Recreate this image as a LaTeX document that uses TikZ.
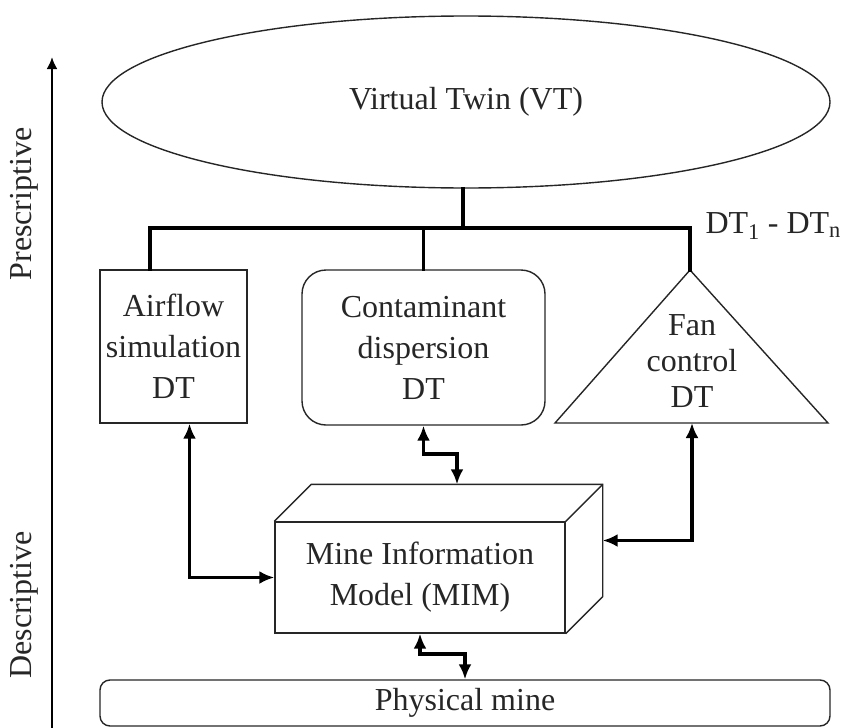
\documentclass[tikz,border=0pt]{standalone}
\usepackage{fontspec}
\setmainfont{Liberation Serif}
\usepackage{tikz}
\usetikzlibrary{arrows,arrows.meta}
\usetikzlibrary{shapes.geometric}

\begin{document}
\begin{tikzpicture}[x=1pt,y=-1pt,
			main node/.style={draw=black!85,line width=1.4pt,align=center,
				inner sep=0pt,text=black!85,font=\rmfamily\fontsize{32}{41}\selectfont},
			label node/.style={text=black!85,font=\rmfamily\fontsize{32}{41}\selectfont},
			bus/.style={line width=3.6pt,line cap=rect},
			link/.style={line width=3.6pt,{Latex[length=15pt,width=13pt]}-{Latex[length=15pt,width=13pt]}}]
			
			\useasboundingbox (0,0) rectangle (841,728);
			
			\node[main node,ellipse,minimum width=728,minimum height=172] (VT) at (466,102) {Virtual Twin (VT)};
			\node[main node,minimum width=147,minimum height=153] (AF) at (173.5,346.5) {Airflow\\simulation\\DT};
			\node[main node,rounded corners=24,minimum width=243,minimum height=155] (CD) at (423.5,347.5) {Contaminant\\dispersion\\DT};
			\node[main node,minimum width=290,minimum height=111] (MIM) at (420,577.5) {Mine Information\\Model (MIM)};
			\node[main node,rounded corners=10,minimum width=730,minimum height=46] (PM) at (465,703) {Physical mine};
			
			\coordinate (FA) at (690,270);
			\coordinate (FL) at (555,423);
			\coordinate (FR) at (828,423);
			\coordinate (FB) at (692,423);
			\draw[black!85,line width=1.4pt,line join=miter] (FL) -- (FA) -- (FR) -- cycle;
			\node[label node,align=center,font=\rmfamily\fontsize{32}{36}\selectfont] (FC) at (692,361) {Fan\\control\\DT};
			
			\draw[black!85,line width=1.4pt] (MIM.north west) -- ++(37,-37) -- ([shift={(37,-37)}]MIM.north east)
				-- ([shift={(37,-37)}]MIM.south east) -- (MIM.south east);
			\draw[black!85,line width=1.4pt] (MIM.north east) -- ++(37,-37);
			
			\coordinate (J) at (463,228);
			\coordinate (JL) at (150,228);
			\draw[bus] (J) -- (J |- VT.south);
			\draw[bus] (AF.north -| JL) -- (JL) -- (FA |- J) -- (FA);
			\draw[bus] (CD.north) -- (CD.north |- J);
			\node[label node,anchor=west] (DT) at (702,226) {DT\textsubscript{1} - DT\textsubscript{n}};
			
			\draw[link] ([xshift=16]AF.south) |- (MIM.west);
			\draw[link] (CD.south) -- ++(0,28) -| ([shift={(37,-37)}]MIM.north);
			\draw[link] (FB) |- ([shift={(37,-37)}]MIM.east);
			\draw[link] (MIM.south) -- ++(0,20) -| (PM.north);
			
			\coordinate (A0) at (52,728);
			\coordinate (A1) at (52,57);
			\draw[-{Latex[length=12pt,width=11pt]},line width=2.6pt] (A0) -- (A1);
			\node[label node,rotate=90] (PR) at (24,204) {Prescriptive};
			\node[label node,rotate=90] (DE) at (24,605) {Descriptive};
			
		\end{tikzpicture}
\end{document}
